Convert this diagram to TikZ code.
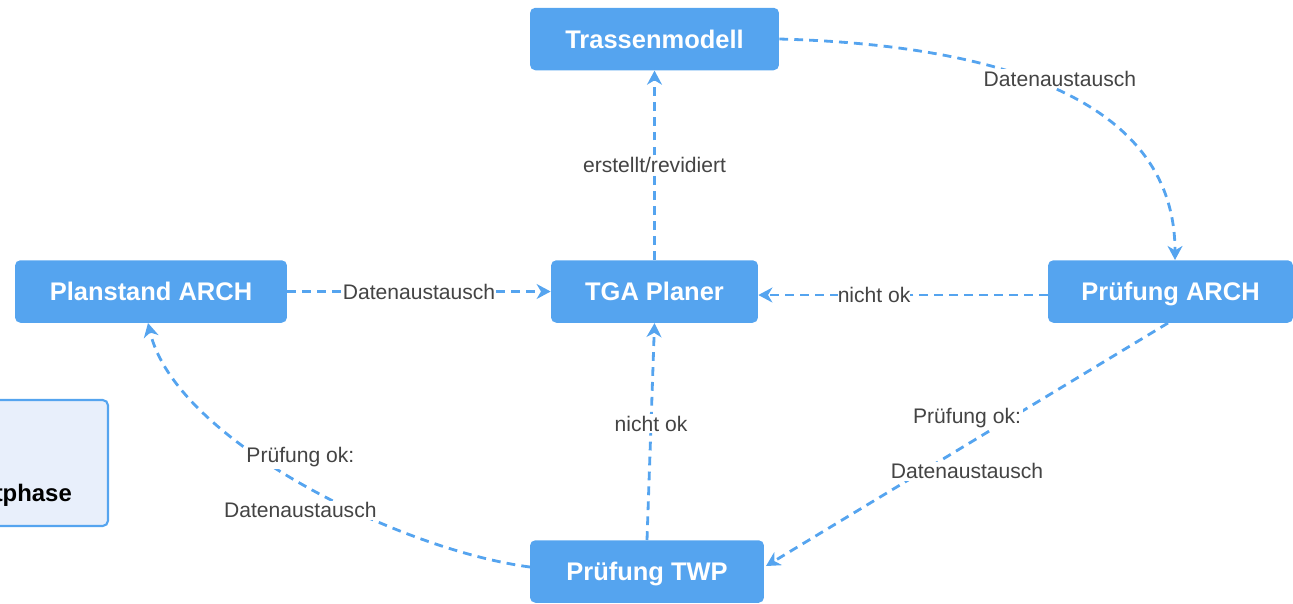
\documentclass[tikz,border=0pt]{standalone}
\usepackage{fontspec}
\setmainfont{Liberation Sans}
\usetikzlibrary{arrows.meta}
\definecolor{boxblue}{HTML}{55A4EF}
\definecolor{phasefill}{HTML}{E8EFFB}
\definecolor{labelgray}{HTML}{444444}
\begin{document}
\begin{tikzpicture}[x=0.02cm,y=-0.02cm,
    box/.style={fill=boxblue,rounded corners=3pt,text=white,
      font=\fontsize{14.5}{17}\selectfont\bfseries,minimum height=1.25cm,
      text height=10.5pt,text depth=0pt},
    lbl/.style={fill=white,text=labelgray,inner sep=1pt,
      font=\fontsize{12}{14}\selectfont},
    flow/.style={draw=boxblue,line width=1.6pt,dash pattern=on 5pt off 3.5pt,
      -{Stealth[length=8pt,width=8.5pt,inset=2.5pt]}}]
      \useasboundingbox (0,0) rectangle (1293,603);
      \draw[draw=boxblue,fill=phasefill,line width=1.2pt,rounded corners=3pt]
        (-100,400) rectangle (108,526);
      \draw
        (78,495) node[anchor=east,font=\fontsize{13.6}{16}\selectfont\bfseries] (phase){tphase}
        (654.5,39) node[box,minimum width=4.98cm] (trasse){Trassenmodell}
        (151,291.5) node[box,minimum width=5.44cm] (planstand){Planstand ARCH}
        (654.5,291.5) node[box,minimum width=4.14cm] (tga){TGA Planer}
        (1170.5,291.5) node[box,minimum width=4.9cm] (pruefarch){Prüfung ARCH}
        (647,571.5) node[box,minimum width=4.68cm] (prueftwp){Prüfung TWP};
      \begin{scope}[flow]
        \draw (trasse.east) .. controls (1000,45) and (1175,100) .. (1175,260)
          node[lbl,pos=.5,yshift=0.26cm] {Datenaustausch};
        \draw (tga.north) to node[lbl] {erstellt/revidiert} (trasse.south);
        \draw (planstand.east) to node[lbl,inner sep=0pt] {Datenaustausch} (tga.west);
        \draw ([yshift=-2pt]pruefarch.west) to node[lbl,pos=.6,inner sep=0pt] {nicht ok} ([yshift=-2pt]tga.east);
        \draw (1168,323) to
          node[lbl,pos=.5,yshift=0.53cm] {Prüfung ok:}
          node[lbl,pos=.5,yshift=-0.53cm] {Datenaustausch} (766,566);
        \draw (647,540) to node[lbl,pos=.535] {nicht ok} (tga.south);
        \draw (530,567) .. controls (400,550) and (175,440) .. (148,323)
          node[lbl,pos=.5,yshift=0.5cm] {Prüfung ok:}
          node[lbl,pos=.5,yshift=-0.55cm] {Datenaustausch};
      \end{scope}
    \end{tikzpicture}
\end{document}
